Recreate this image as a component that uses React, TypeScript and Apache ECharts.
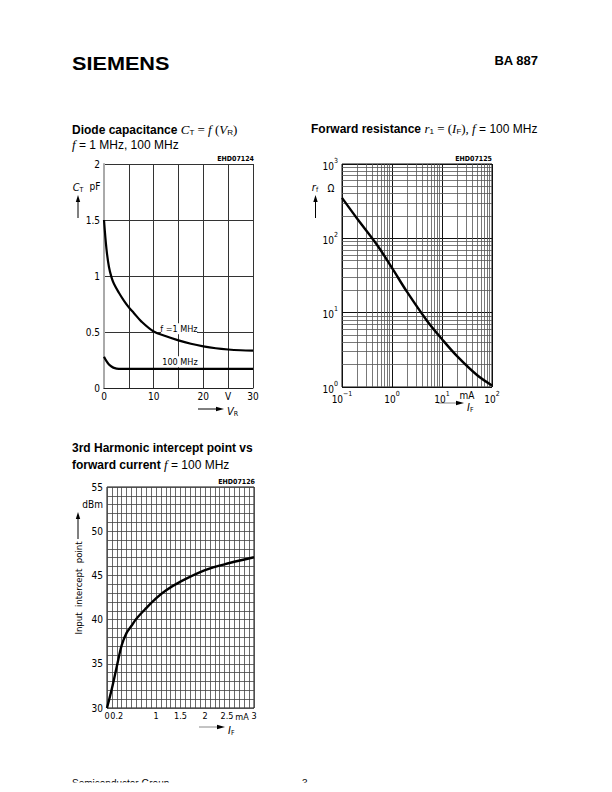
import React, { useEffect, useRef } from "react";
import * as echarts from "echarts";

// ---- Chart 1: Diode capacitance vs reverse voltage ----
const VR_1MHZ = [0, 0.5, 1, 1.5, 2, 3, 4, 5, 6, 7.5, 10, 12.5, 15, 17.5, 20, 22.5, 25, 27.5, 30];
const CT_1MHZ = [1.5, 1.24, 1.08, 0.99, 0.93, 0.85, 0.78, 0.72, 0.67, 0.595, 0.505, 0.462, 0.425, 0.395, 0.372, 0.355, 0.344, 0.337, 0.333];
const VR_100MHZ = [0, 0.5, 1, 1.5, 2, 3, 4, 10, 20, 30];
const CT_100MHZ = [0.28, 0.24, 0.21, 0.192, 0.18, 0.171, 0.17, 0.17, 0.17, 0.17];
const C1_XLABELS: Record<string, string> = { "0": "0", "10": "10", "20": "20", "25": "V", "30": "30" };
const C1_YLABELS: Record<string, string> = { "0": "0", "0.5": "0.5", "1": "1", "1.5": "1.5", "2": "2" };

// ---- Chart 2: Forward resistance vs forward current ----
const IF_RF = [0.1, 0.2, 0.5, 1, 2, 5, 10, 20, 50, 100];
const RF = [350, 185, 82, 40, 19, 7.8, 4.4, 2.6, 1.45, 1.05];
const LOG_MINORS_X = [0.2, 0.3, 0.4, 0.5, 0.6, 0.7, 0.8, 0.9, 2, 3, 4, 5, 6, 7, 8, 9, 20, 30, 40, 50, 60, 70, 80, 90];
const LOG_MINORS_Y = [2, 3, 4, 5, 6, 7, 8, 9, 20, 30, 40, 50, 60, 70, 80, 90, 200, 300, 400, 500, 600, 700, 800, 900];

// ---- Chart 3: 3rd harmonic intercept point vs forward current ----
const IF_IP = [0, 0.1, 0.2, 0.3, 0.4, 0.5, 0.6, 0.8, 1.0, 1.2, 1.5, 2.0, 2.5, 3.0];
const IIP = [30, 32.2, 34.7, 37.1, 38.5, 39.3, 40.1, 41.3, 42.4, 43.3, 44.3, 45.6, 46.4, 47.05];
const C3_XLABELS: [number, string][] = [[0, "0"], [0.2, "0.2"], [1, "1"], [1.5, "1.5"], [2, "2"], [2.5, "{l|2.5}"], [3, "3"]];
const C3_YLABELS: [number, string][] = [[30, "30"], [35, "35"], [40, "40"], [45, "45"], [50, "50"], [53, "dBm"], [55, "55"]];

const SANS = '"Liberation Sans", Arial, Helvetica, sans-serif';
const NARROW = '"Liberation Sans Narrow", "DejaVu Sans Condensed", "Liberation Sans", sans-serif';
const SERIF = '"Liberation Serif", "Times New Roman", serif';

function pick(list: [number, string][], v: number) {
  for (const [k, s] of list) if (Math.abs(k - v) < 1e-6) return s;
  return "";
}

function supLabel(v: number) {
  const e = Math.round(Math.log10(v));
  return `{b|10}{s|${e < 0 ? "\u2212" + -e : e}}`;
}

const supRich = {
  b: { fontSize: 10, fontFamily: NARROW, color: "#000", lineHeight: 14, verticalAlign: "bottom" },
  s: { fontSize: 7, fontFamily: NARROW, color: "#000", lineHeight: 8, verticalAlign: "top" },
};

const titleRich = {
  b: { font: `bold 12px ${SANS}`, fill: "#000", lineHeight: 16, verticalAlign: "bottom" },
  r: { font: `12px ${SANS}`, fill: "#000", lineHeight: 16, verticalAlign: "bottom" },
  i: { font: `italic 13px ${SERIF}`, fill: "#000", lineHeight: 16, verticalAlign: "bottom" },
  sr: { font: `13px ${SERIF}`, fill: "#000", lineHeight: 16, verticalAlign: "bottom" },
  sub: { font: `8px ${SANS}`, fill: "#000", lineHeight: 12, verticalAlign: "bottom" },
};

const axisRich = {
  i: { font: `italic 11px ${NARROW}`, fill: "#000", lineHeight: 14, verticalAlign: "bottom" },
  sub: { font: `7px ${NARROW}`, fill: "#000", lineHeight: 10, verticalAlign: "bottom" },
  n: { font: `10px ${NARROW}`, fill: "#000", lineHeight: 14, verticalAlign: "bottom" },
};

function upArrow(x: number, yTop: number, yBottom: number, color = "#000") {
  return [
    { type: "line", shape: { x1: x, y1: yTop + 5, x2: x, y2: yBottom }, style: { stroke: color, lineWidth: 1 } },
    { type: "polygon", shape: { points: [[x, yTop], [x - 2.2, yTop + 7], [x + 2.2, yTop + 7]] }, style: { fill: color } },
  ];
}
function rightArrow(xLeft: number, xRight: number, y: number, color = "#000") {
  return [
    { type: "line", shape: { x1: xLeft, y1: y, x2: xRight - 5, y2: y }, style: { stroke: color, lineWidth: 1 } },
    { type: "polygon", shape: { points: [[xRight, y], [xRight - 8, y - 2.2], [xRight - 8, y + 2.2]] }, style: { fill: "#000" } },
  ];
}

export default function App() {
  const ref = useRef<HTMLDivElement>(null);
  useEffect(() => {
    if (!ref.current) return;
    const chart = echarts.init(ref.current, undefined, { renderer: "svg" });
    const gridLine = { show: true, lineStyle: { color: "#333", width: 1 } };
    const minorStyle = { color: "#555", width: 0.8, type: "solid" as const };

    const option: any = {
      animation: false,
      backgroundColor: "#fff",
      grid: [
        { left: 104, top: 164, width: 149, height: 224, containLabel: false },
        { left: 342, top: 164, width: 150, height: 223, containLabel: false, show: true, borderColor: "#111", borderWidth: 1 },
        { left: 107, top: 487, width: 147, height: 221, containLabel: false, show: true, borderColor: "#111", borderWidth: 1 },
      ],
      xAxis: [
        {
          gridIndex: 0, type: "value", min: 0, max: 30, interval: 5,
          axisLine: { show: true, lineStyle: { color: "#222", width: 1 } },
          axisTick: { show: false },
          splitLine: gridLine,
          axisLabel: {
            margin: 3, fontSize: 10, fontFamily: NARROW, color: "#000", interval: 0,
            formatter: (v: number) => C1_XLABELS[String(v)] ?? "",
          },
        },
        {
          gridIndex: 1, type: "log", logBase: 10, min: 0.1, max: 100,
          axisLine: { show: false },
          axisTick: { show: false },
          splitLine: { show: true, lineStyle: { color: "#111", width: 1 } },
          axisLabel: { margin: 3, formatter: supLabel, rich: supRich },
        },
        {
          gridIndex: 2, type: "value", min: 0, max: 3, interval: 0.1,
          axisLine: { show: false },
          axisTick: { show: false },
          splitLine: { show: true, lineStyle: { color: "#444", width: 0.8 } },
          axisLabel: {
            margin: 3, fontSize: 9, fontFamily: NARROW, color: "#000", interval: 0,
            formatter: (v: number) => pick(C3_XLABELS, v),
            rich: { l: { fontSize: 9, fontFamily: NARROW, color: "#000", padding: [0, 5, 0, 0] } },
          },
        },
      ],
      yAxis: [
        {
          gridIndex: 0, type: "value", min: 0, max: 2, interval: 0.5,
          axisLine: { show: true, lineStyle: { color: "#aaa", width: 2 } },
          axisTick: { show: false },
          splitLine: gridLine,
          axisLabel: {
            margin: 4, fontSize: 10, fontFamily: NARROW, color: "#000",
            formatter: (v: number) => C1_YLABELS[String(v)] ?? "",
          },
        },
        {
          gridIndex: 1, type: "log", logBase: 10, min: 1, max: 1000,
          axisLine: { show: false },
          axisTick: { show: false },
          splitLine: { show: true, lineStyle: { color: "#111", width: 1 } },
          axisLabel: { margin: 4, formatter: supLabel, rich: supRich },
        },
        {
          gridIndex: 2, type: "value", min: 30, max: 55, interval: 1,
          axisLine: { show: false },
          axisTick: { show: false },
          splitLine: { show: true, lineStyle: { color: "#444", width: 0.8 } },
          axisLabel: {
            margin: 4, fontSize: 10, fontFamily: NARROW, color: "#000", interval: 0,
            formatter: (v: number) => pick(C3_YLABELS, v),
          },
        },
      ],
      series: [
        {
          type: "line", xAxisIndex: 0, yAxisIndex: 0, name: "f = 1 MHz",
          data: VR_1MHZ.map((x, i) => [x, CT_1MHZ[i]]),
          smooth: 0.35, symbol: "none",
          lineStyle: { color: "#000", width: 2.2 }, z: 5,
          markPoint: {
            silent: true,
            data: [{
              coord: [15.1, 0.53], symbol: "rect", symbolSize: [36, 11], itemStyle: { color: "#fff" },
              label: { show: true, position: "inside", formatter: "f =1 MHz", color: "#000", fontSize: 9, fontFamily: NARROW },
            }],
          },
        },
        {
          type: "line", xAxisIndex: 0, yAxisIndex: 0, name: "100 MHz",
          data: VR_100MHZ.map((x, i) => [x, CT_100MHZ[i]]),
          smooth: 0.35, symbol: "none",
          lineStyle: { color: "#000", width: 2.2 }, z: 5,
          markPoint: {
            silent: true,
            data: [{
              coord: [15.3, 0.235], symbol: "rect", symbolSize: [36, 11], itemStyle: { color: "#fff" },
              label: { show: true, position: "inside", formatter: "100 MHz", color: "#000", fontSize: 9, fontFamily: NARROW },
            }],
          },
        },
        {
          type: "line", xAxisIndex: 1, yAxisIndex: 1, name: "rf",
          data: IF_RF.map((x, i) => [x, RF[i]]),
          smooth: 0.35, symbol: "none",
          lineStyle: { color: "#000", width: 2.4 }, z: 5,
          markLine: {
            silent: true, symbol: "none", label: { show: false }, lineStyle: minorStyle, z: 1,
            data: [
              ...LOG_MINORS_X.map((v) => ({ xAxis: v })),
              ...LOG_MINORS_Y.map((v) => ({ yAxis: v })),
            ],
          },
        },
        {
          type: "line", xAxisIndex: 2, yAxisIndex: 2, name: "IIP",
          data: IF_IP.map((x, i) => [x, IIP[i]]),
          smooth: 0.35, symbol: "none",
          lineStyle: { color: "#000", width: 2.4 }, z: 5,
        },
      ],
      graphic: [
        // header
        { type: "text", x: 72, y: 63, scaleX: 1.14, style: { text: "SIEMENS", font: `bold 19px ${SANS}`, fill: "#000", textVerticalAlign: "middle" } },
        { type: "text", x: 538, y: 60, style: { text: "BA 887", font: `bold 13px ${SANS}`, fill: "#000", textAlign: "right", textVerticalAlign: "middle" } },
        // title 1
        { type: "text", x: 72, y: 128, style: { text: "{b|Diode capacitance }{i|C}{sub|T}{sr| = }{i|f}{sr| (}{i|V}{sub|R}{sr|)}", rich: titleRich, textVerticalAlign: "middle" } },
        { type: "text", x: 72, y: 143, style: { text: "{i|f}{r| = 1 MHz, 100 MHz}", rich: titleRich, textVerticalAlign: "middle" } },
        // title 2
        { type: "text", x: 311, y: 127, style: { text: "{b|Forward resistance }{i|r}{sub|1}{sr| = (}{i|I}{sub|F}{sr|), }{i|f}{r| = 100 MHz}", rich: titleRich, textVerticalAlign: "middle" } },
        // title 3
        { type: "text", x: 72, y: 448, style: { text: "3rd Harmonic intercept point vs", font: `bold 12px ${SANS}`, fill: "#000", textVerticalAlign: "middle" } },
        { type: "text", x: 72, y: 463, style: { text: "{b|forward current }{i|f}{r| = 100 MHz}", rich: titleRich, textVerticalAlign: "middle" } },
        // code numbers
        { type: "text", x: 254, y: 159, style: { text: "EHD07124", font: `bold 7px ${NARROW}`, fill: "#000", textAlign: "right", textVerticalAlign: "middle" } },
        { type: "text", x: 492, y: 159, style: { text: "EHD07125", font: `bold 7px ${NARROW}`, fill: "#000", textAlign: "right", textVerticalAlign: "middle" } },
        { type: "text", x: 255, y: 482, style: { text: "EHD07126", font: `bold 7px ${NARROW}`, fill: "#000", textAlign: "right", textVerticalAlign: "middle" } },
        // chart 1 axis names
        { type: "text", x: 78, y: 186, style: { text: "{i|C}{sub|T}", rich: axisRich, textAlign: "center", textVerticalAlign: "middle" } },
        { type: "text", x: 95, y: 186, style: { text: "pF", font: `10px ${NARROW}`, fill: "#000", textAlign: "center", textVerticalAlign: "middle" } },
        ...upArrow(78, 195, 218),
        ...rightArrow(198, 224, 409),
        { type: "text", x: 227, y: 410, style: { text: "{i|V}{sub|R}", rich: axisRich, textVerticalAlign: "middle" } },
        // chart 2 axis names
        { type: "text", x: 315, y: 186, style: { text: "{i|r}{sub|f}", rich: axisRich, textAlign: "center", textVerticalAlign: "middle" } },
        { type: "text", x: 331, y: 188, style: { text: "\u03a9", font: `10px ${NARROW}`, fill: "#000", textAlign: "center", textVerticalAlign: "middle" } },
        ...upArrow(315.5, 195, 218),
        { type: "text", x: 467, y: 395, style: { text: "mA", font: `10px ${NARROW}`, fill: "#000", textAlign: "center", textVerticalAlign: "middle" } },
        ...rightArrow(438, 464, 403, "#888"),
        { type: "text", x: 467, y: 406, style: { text: "{i|I}{sub|F}", rich: axisRich, textVerticalAlign: "middle" } },
        // chart 3 axis names
        { type: "text", x: 242, y: 716.5, style: { text: "mA", font: `9px ${NARROW}`, fill: "#000", textAlign: "center", textVerticalAlign: "middle" } },
        { type: "text", x: 78, y: 588, rotation: Math.PI / 2, style: { text: "Input  intercept  point", font: `9.5px ${NARROW}`, fill: "#000", textAlign: "center", textVerticalAlign: "middle" } },
        ...upArrow(78, 512, 539),
        ...rightArrow(199, 225, 727, "#888"),
        { type: "text", x: 228, y: 729, style: { text: "{i|I}{sub|F}", rich: axisRich, textVerticalAlign: "middle" } },
        // footer (cut at page edge)
        { type: "text", x: 72, y: 778, style: { text: "Semiconductor Group", font: `10px ${SANS}`, fill: "#000", textVerticalAlign: "top" } },
        { type: "text", x: 302, y: 778, style: { text: "3", font: `10px ${SANS}`, fill: "#000", textVerticalAlign: "top" } },
        { type: "rect", shape: { x: 0, y: 782.5, width: 612, height: 12 }, style: { fill: "#fff" }, z: 100 },
      ],
    };
    chart.setOption(option);
    return () => chart.dispose();
  }, []);
  return <div ref={ref} style={{ position: "absolute", left: 0, top: 0, width: 612, height: 792 }} />;
}
